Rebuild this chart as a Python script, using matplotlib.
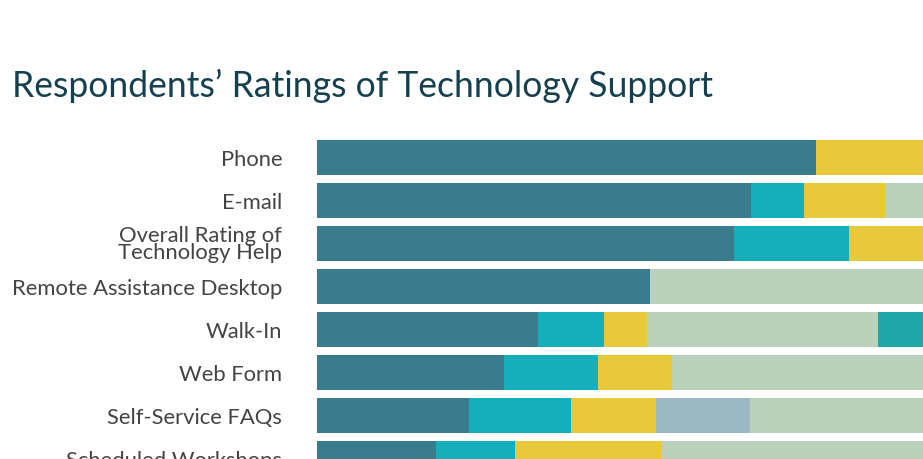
import matplotlib
matplotlib.use('Agg')
import matplotlib.pyplot as plt

categories = ['Phone', 'E-mail', 'Overall Rating of\nTechnology Help', 'Remote Assistance Desktop',
              'Walk-In', 'Web Form', 'Self-Service FAQs', 'Scheduled Workshops']

# segment widths (share of visible bar, the chart is cut at the right edge)
excellent = [82.3, 71.6, 68.8, 55.0, 36.5, 30.9, 25.1, 19.6]
good      = [0.0,  8.7, 19.0,  0.0, 10.9, 15.5, 16.8, 13.0]
fair      = [17.7, 13.5, 12.2, 0.0,  7.1, 12.2, 14.0, 24.4]
poor      = [0.0,  0.0,  0.0,  0.0,  0.0,  0.0, 15.5,  0.0]
na        = [0.0,  6.2,  0.0, 45.0, 38.1, 41.4, 28.6, 43.0]
other     = [0.0,  0.0,  0.0,  0.0,  7.4,  0.0,  0.0,  0.0]

series = [excellent, good, fair, poor, na, other]
colors = ['#3B7C8C', '#15AEBB', '#E8C93B', '#9AB7C2', '#BAD2BB', '#22A7A8']

plt.rcParams['font.family'] = ['Lato', 'DejaVu Sans']

fig = plt.figure(figsize=(9.23, 4.6), dpi=100)
ax = fig.add_axes([317 / 923, 0, 1 - 317 / 923, 330 / 460])

y = list(range(len(categories)))
left = [0.0] * len(categories)
for vals, col in zip(series, colors):
    ax.barh(y, vals, left=left, height=0.814, color=col, linewidth=0)
    left = [l + v for l, v in zip(left, vals)]

ax.set_xlim(0, 100)
ax.set_ylim(7 + 1.0 / 43, -28.5 / 43)
ax.set_yticks(y)
ax.set_yticklabels(categories, fontsize=15.8, color='#444444', linespacing=0.8)
ax.tick_params(axis='y', length=0, pad=25)
ax.tick_params(axis='x', bottom=False, labelbottom=False)
for s in ax.spines.values():
    s.set_visible(False)

fig.text(12 / 923, 1 - 97 / 460, 'Respondents\u2019 Ratings of Technology Support',
         fontsize=25.6, color='#17404F', ha='left', va='baseline')

fig.savefig('out.png', dpi=100)
